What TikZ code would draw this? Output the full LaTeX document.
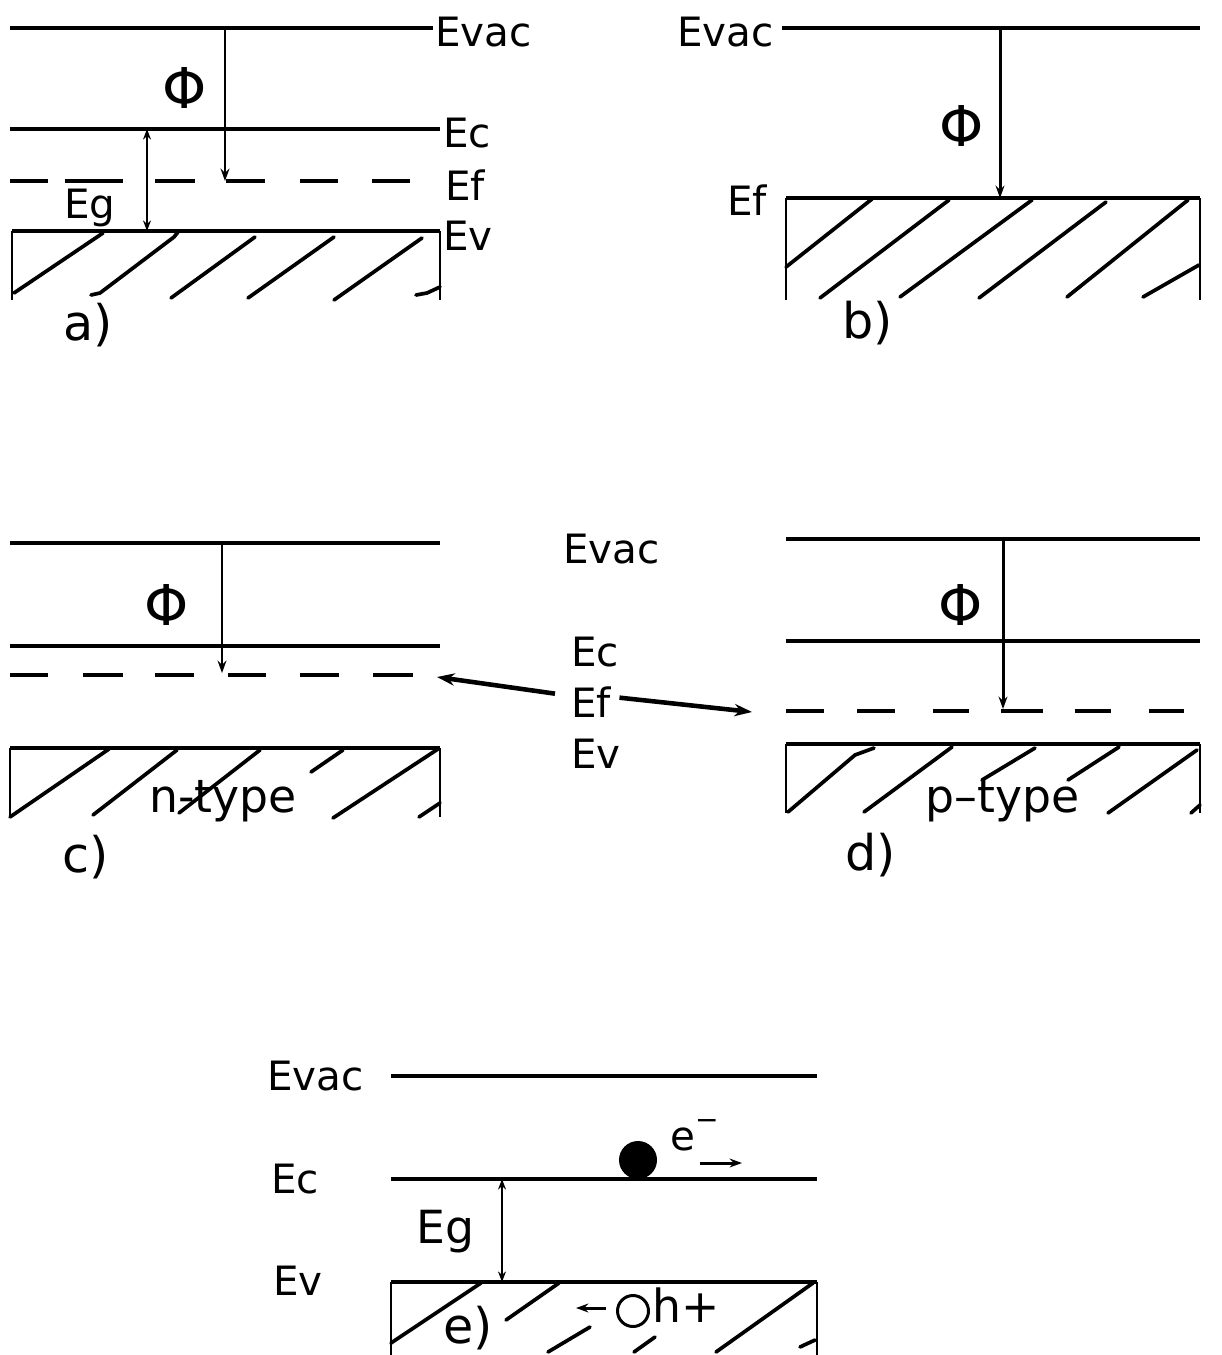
\documentclass[tikz,border=0pt]{standalone}
\usepackage{fontspec}
\setmainfont{DejaVu Sans}
\usetikzlibrary{arrows.meta}
\begin{document}
\begin{tikzpicture}[x=0.02cm,y=-0.02cm,
 lvl/.style={line width=1.8pt},
 dsh/.style={line width=1.8pt},
 hatch/.style={line width=2.1pt, line cap=round, line join=round},
 side/.style={line width=1.3pt},
 lab/.style={font=\fontsize{23}{26}\selectfont, inner sep=0pt, anchor=base west},
 plab/.style={font=\fontsize{28}{32}\selectfont, inner sep=0pt, anchor=base west},
 phi/.style={font=\fontsize{32}{36}\selectfont, inner sep=0pt},
 tip/.style={-{Stealth[length=7pt,width=5pt]}, line width=1.7pt},
 dtip/.style={{Stealth[length=6pt,width=4.5pt]}-{Stealth[length=6pt,width=4.5pt]}, line width=1.5pt},
 ptr/.style={-{Stealth[length=10pt,width=7pt]}, line width=2.6pt}
]
\useasboundingbox (0,0) rectangle (1221,1355);

% ---------------- panel a
\draw[lvl] (10,28) -- (433,28);
\node[lab] (aevac) at (435,47) {Evac};
\draw[tip] (225,28) -- (225,181);
\node[phi] (aphi) at (185,88) {Φ};
\draw[lvl] (10,129) -- (440,129);
\node[lab] (aec) at (443,148) {Ec};
\draw[dsh] (10,181)--(48,181) (65,181)--(123,181) (155,181)--(195,181)
           (226,181)--(265,181) (300,181)--(338,181) (372,181)--(410,181);
\node[lab] (aef) at (445,200) {Ef};
\draw[side] (12,300) -- (12,231);
\draw[lvl] (12,231) -- (440,231);
\draw[side] (440,231) -- (440,300);
\node[lab] (aev) at (443,250) {Ev};
\draw[dtip] (147,129) -- (147,231);
\node[lab] (aeg) at (64,218) {Eg};
\draw[hatch] (14,293)--(103,233)
             (91,295)--(100,293)--(174,237)--(178,232)
             (171,298)--(255,237)
             (248,298)--(334,237)
             (334,300)--(422,238)
             (416,295)--(427,293)--(440,287);
\node[plab] (alab) at (63,340) {a)};

% ---------------- panel b
\draw[lvl] (782,28) -- (1200,28);
\node[lab] (bevac) at (677,47) {Evac};
\draw[tip] (1000,28) -- (1000,198);
\node[phi] (bphi) at (962,126) {Φ};
\node[lab] (bef) at (727,215) {Ef};
\draw[side] (786,300) -- (786,198);
\draw[lvl] (786,198) -- (1200,198);
\draw[side] (1200,198) -- (1200,300);
\draw[hatch] (786,267)--(872,199)
             (820,298)--(949,200)
             (900,297)--(1032,200)
             (979,298)--(1106,202)
             (1067,297)--(1188,200)
             (1143,297)--(1199,265);
\node[plab] (blab) at (842,338) {b)};

% ---------------- panel c
\draw[lvl] (10,543) -- (440,543);
\draw[tip] (222,543) -- (222,673);
\node[phi] (cphi) at (167,605) {Φ};
\draw[lvl] (10,646) -- (440,646);
\draw[dsh] (10,675)--(48,675) (83,675)--(123,675) (155,675)--(194,675)
           (228,675)--(266,675) (300,675)--(339,675) (373,675)--(413,675);
\draw[side] (10,817) -- (10,748);
\draw[lvl] (10,748) -- (440,748);
\draw[side] (440,748) -- (440,817);
\draw[hatch] (10,817)--(109,749)
             (93,815)--(177,750)
             (179,813)--(260,750)
             (311,772)--(343,750)
             (333,818)--(438,749)
             (419,817)--(440,803);
\node[lab, font=\fontsize{26}{30}\selectfont] (ntype) at (149,812) {n-type};
\node[plab] (clab) at (62,872) {c)};

% ---------------- centre labels
\node[lab] (mevac) at (563,563) {Evac};
\node[lab] (mec) at (571,666) {Ec};
\node[lab] (mef) at (571,717) {Ef};
\node[lab] (mev) at (571,768) {Ev};
\coordinate (cefend) at (437,677);
\coordinate (defend) at (752,712);
\draw[ptr] (mef.west) ++(-16,-8) coordinate (efl) -- (cefend);
\draw[ptr] (mef.east) ++(8,-4) coordinate (efr) -- (defend);

% ---------------- panel d
\draw[lvl] (786,539) -- (1200,539);
\draw[tip] (1003,539) -- (1003,709);
\node[phi] (dphi) at (961,605) {Φ};
\draw[lvl] (786,641) -- (1200,641);
\draw[dsh] (786,711)--(824,711) (857,711)--(895,711) (933,711)--(969,711)
           (1001,711)--(1043,711) (1075,711)--(1111,711) (1149,711)--(1184,711);
\draw[side] (786,813) -- (786,744);
\draw[lvl] (786,744) -- (1200,744);
\draw[side] (1200,744) -- (1200,813);
\draw[hatch] (788,812)--(855,755)--(874,748)
             (864,812)--(952,747)
             (982,780)--(1035,748)
             (1068,780)--(1119,747)
             (1108,813)--(1197,750)
             (1191,813)--(1200,805);
\node[lab, font=\fontsize{26}{30}\selectfont] (ptype) at (925,812) {p–type};
\node[plab] (dlab) at (845,870) {d)};

% ---------------- panel e
\node[lab] (eevac) at (267,1090) {Evac};
\draw[lvl] (391,1076) -- (817,1076);
\node[lab] (eec) at (271,1193) {Ec};
\draw[lvl] (391,1179) -- (817,1179);
\node[lab] (eev) at (273,1295) {Ev};
\node[lab, font=\fontsize{26}{30}\selectfont] (eeg) at (416,1243) {Eg};
\draw[dtip] (502,1179) -- (502,1282);
\node[circle, fill, inner sep=0pt, minimum size=0.76cm] (elec) at (638,1160) {};
\node[lab] (elab) at (670,1150) {e\raisebox{0.5em}{\fontsize{16}{18}\selectfont −}};
\draw[tip] (700,1163) -- (742,1163);
\draw[side] (391,1355) -- (391,1282);
\draw[lvl] (391,1282) -- (817,1282);
\draw[side] (817,1282) -- (817,1355);
\draw[hatch] (391,1343)--(481,1283)
             (506,1320)--(559,1283)
             (548,1352)--(590,1327)
             (634,1352)--(655,1337)
             (716,1352)--(813,1283)
             (800,1347)--(815,1340);
\node[circle, draw, line width=1.7pt, inner sep=0pt, minimum size=0.62cm] (hole) at (633,1311) {};
\draw[tip] (hole.west) ++(-10,-3) -- (576,1308);
\node[lab, font=\fontsize{26}{30}\selectfont] (hlab) at (652,1322) {h+};
\node[plab] (elab2) at (443,1343) {e)};
\end{tikzpicture}
\end{document}
